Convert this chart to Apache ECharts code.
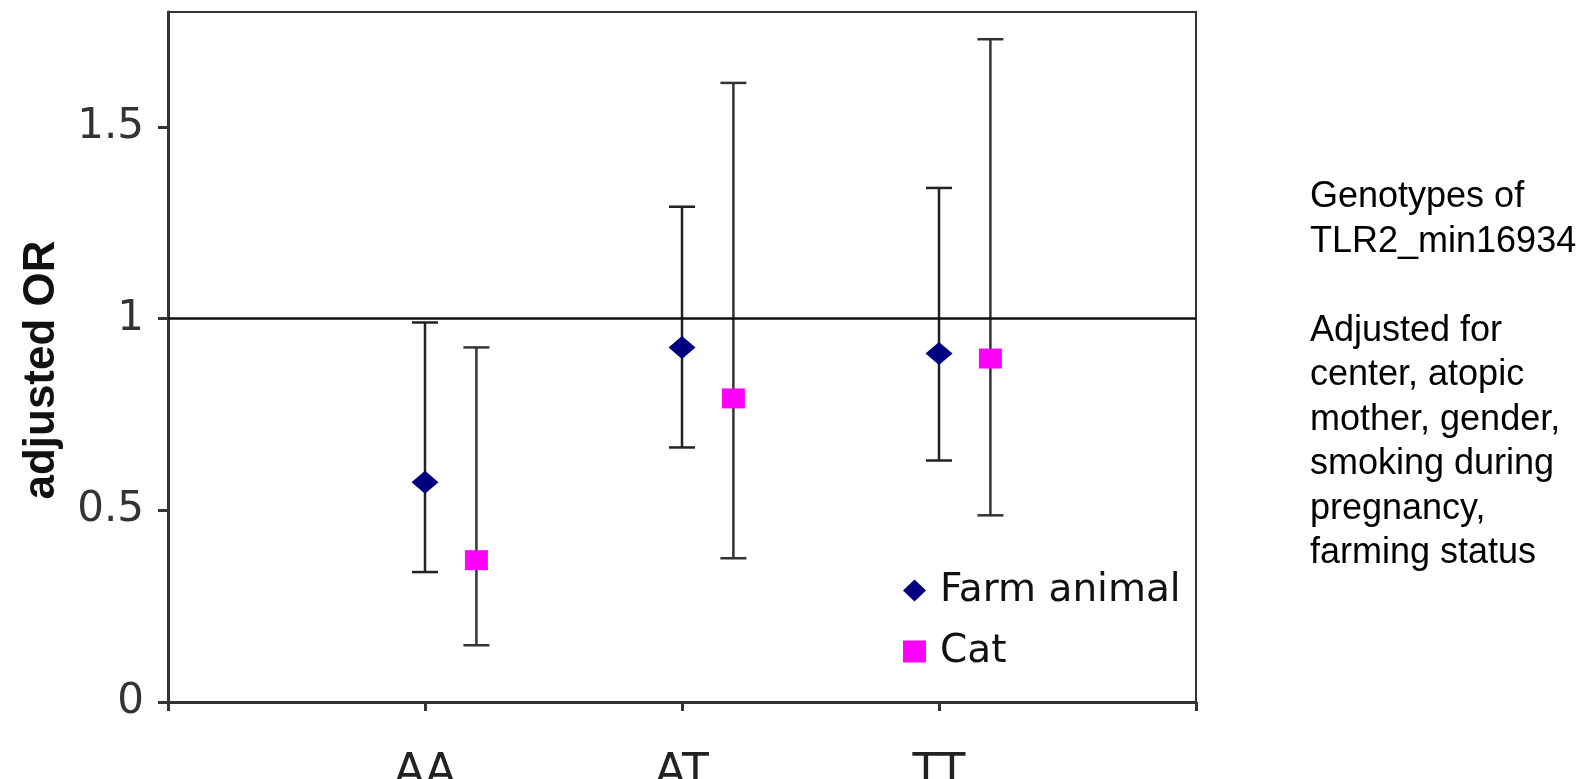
<!DOCTYPE html>
<html>
<head>
<meta charset="utf-8">
<script src="https://cdn.jsdelivr.net/npm/echarts@6/dist/echarts.min.js"></script>
<style>
  html, body { margin: 0; padding: 0; background: #ffffff; }
  #chart { width: 1595px; height: 779px; }
</style>
</head>
<body>
<div id="chart"></div>
<script>
// ---- data ----
const categories = ['AA', 'AT', 'TT'];
const seriesNames = ['Farm animal', 'Cat'];
const farmOR   = [0.573, 0.925, 0.909];
const farmLow  = [0.339, 0.664, 0.630];
const farmHigh = [0.990, 1.292, 1.341];
const catOR    = [0.370, 0.792, 0.896];
const catLow   = [0.148, 0.375, 0.487];
const catHigh  = [0.925, 1.615, 1.729];
const yTicks = [0, 0.5, 1, 1.5];
const referenceOR = 1;
const sideNote = 'Genotypes of\nTLR2_min16934\n\nAdjusted for\ncenter, atopic\nmother, gender,\nsmoking during\npregnancy,\nfarming status';

// ---- layout/style constants ----
const catOffset = 0.2;
const capHalf = 13;

const chart = echarts.init(document.getElementById('chart'));

function errorBarSeries(low, high, offset, color) {
  return {
    type: 'custom',
    silent: true,
    z: 2,
    data: categories.map((c, i) => [i + 1 + offset, low[i], high[i]]),
    encode: { x: 0, y: [1, 2] },
    renderItem: function (params, api) {
      const x = api.value(0);
      const pLo = api.coord([x, api.value(1)]);
      const pHi = api.coord([x, api.value(2)]);
      const st = { stroke: color, lineWidth: 2.5 };
      return {
        type: 'group',
        children: [
          { type: 'line', shape: { x1: pLo[0], y1: pLo[1], x2: pHi[0], y2: pHi[1] }, style: st },
          { type: 'line', shape: { x1: pHi[0] - capHalf, y1: pHi[1], x2: pHi[0] + capHalf, y2: pHi[1] }, style: st },
          { type: 'line', shape: { x1: pLo[0] - capHalf, y1: pLo[1], x2: pLo[0] + capHalf, y2: pLo[1] }, style: st }
        ]
      };
    }
  };
}

const option = {
  backgroundColor: '#ffffff',
  animation: false,
  grid: {
    left: 168, right: 399, top: 12, bottom: 77,
    outerBoundsMode: 'none',
    containLabel: false,
    show: true, borderColor: '#333', borderWidth: 2, backgroundColor: 'transparent'
  },
  xAxis: {
    type: 'value',
    min: 0, max: 4, interval: 1,
    axisLine: { show: true, onZero: false, lineStyle: { color: '#333', width: 3 } },
    axisTick: { show: true, length: 9, lineStyle: { color: '#333', width: 3 } },
    splitLine: { show: false },
    axisLabel: {
      customValues: [1, 2, 3],
      formatter: v => categories[Math.round(v) - 1] || '',
      fontFamily: 'DejaVu Sans', fontSize: 44, color: '#222', margin: 50
    }
  },
  yAxis: {
    type: 'value',
    min: 0, max: 1.8,
    name: 'adjusted OR',
    nameLocation: 'middle',
    nameGap: 104,
    nameTextStyle: {
      fontFamily: 'Liberation Sans', fontWeight: 'bold', fontSize: 44, color: '#111',
      padding: [0, 26, 0, 0]
    },
    axisLine: { show: true, lineStyle: { color: '#333', width: 3 } },
    axisTick: { show: true, length: 10, customValues: yTicks, lineStyle: { color: '#333', width: 3 } },
    splitLine: { show: false },
    axisLabel: {
      customValues: yTicks,
      formatter: v => String(v),
      fontFamily: 'DejaVu Sans', fontSize: 42, color: '#333', margin: 24
    }
  },
  legend: {
    orient: 'vertical',
    left: 903, top: 571,
    padding: 0,
    itemWidth: 23, itemHeight: 22,
    itemGap: 22,
    data: seriesNames,
    textStyle: { fontFamily: 'DejaVu Sans', fontSize: 39, color: '#111', lineHeight: 39, padding: [0, 0, 0, 9] }
  },
  series: [
    errorBarSeries(farmLow, farmHigh, 0, '#222'),
    errorBarSeries(catLow, catHigh, catOffset, '#333'),
    {
      type: 'scatter',
      name: seriesNames[0],
      z: 5,
      symbol: 'diamond',
      symbolSize: [27, 23],
      itemStyle: { color: '#000080', opacity: 1 },
      data: categories.map((c, i) => [i + 1, farmOR[i]]),
      markLine: {
        silent: true,
        symbol: 'none',
        label: { show: false },
        lineStyle: { color: '#111', width: 2.5, type: 'solid' },
        data: [{ yAxis: referenceOR }]
      }
    },
    {
      type: 'scatter',
      name: seriesNames[1],
      z: 5,
      symbol: 'rect',
      symbolSize: [23, 20],
      itemStyle: { color: '#ff00ff', opacity: 1 },
      data: categories.map((c, i) => [i + 1 + catOffset, catOR[i]])
    }
  ],
  graphic: [
    {
      type: 'text',
      left: 1310,
      top: 175,
      style: {
        text: sideNote,
        font: '36px "Liberation Sans", Arial, sans-serif',
        lineHeight: 44.5,
        fill: '#000'
      }
    }
  ]
};

chart.setOption(option);
</script>
</body>
</html>
